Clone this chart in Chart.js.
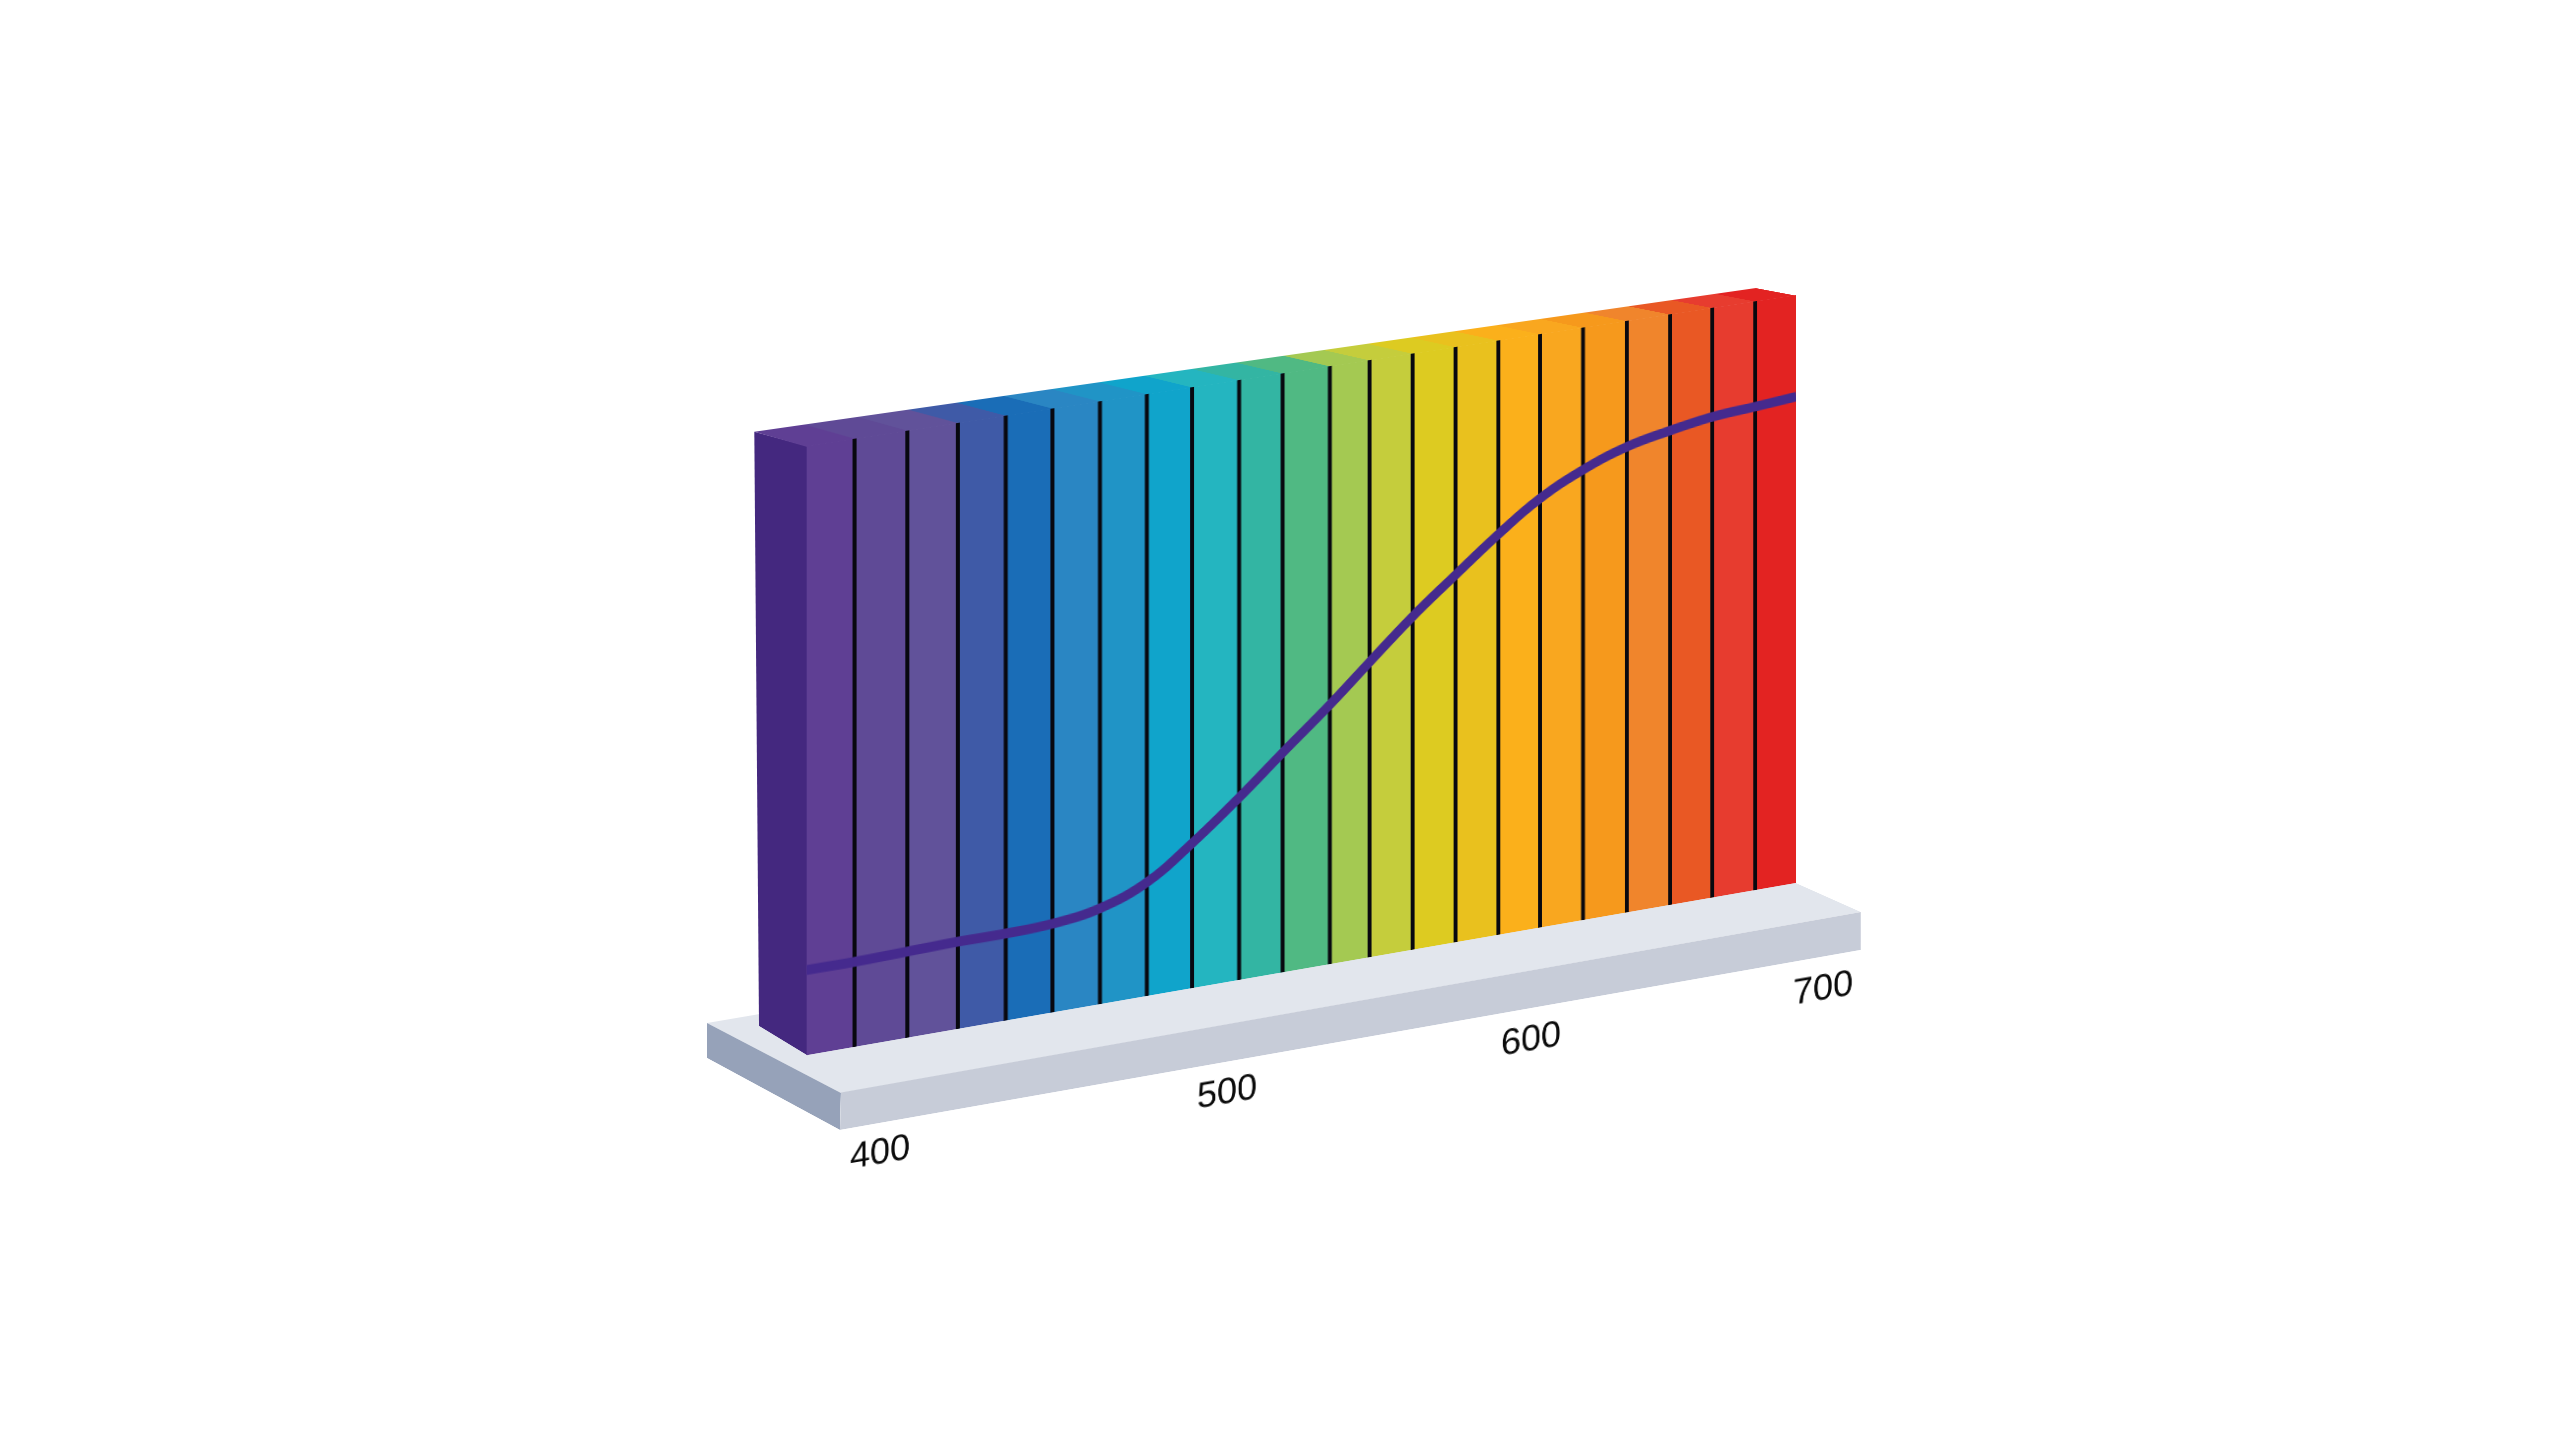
<!DOCTYPE html>
<html lang="en">
<head>
    <meta charset="UTF-8">
    <title>Spectrum Wall 400-700</title>
    <script src="https://cdn.jsdelivr.net/npm/chart.js"></script>
    <style>
        * { margin: 0; padding: 0; box-sizing: border-box; }
        html, body { width: 2560px; height: 1441px; background: #fff; overflow: hidden; }
        .face { position: absolute; left: 0; top: 0; transform-origin: 0 0; }
    </style>
</head>
<body>
    <script>
        // colour band edges along the wavelength axis
        const bandEdges = [400, 414.1, 429.6, 444.5, 458.7, 472.6, 486.7, 500.8, 514.3, 528.5, 541.7, 556,
            568, 581.2, 594.3, 607.5, 620.3, 633.6, 647.1, 660.6, 673.8, 687.2, 700];
        const bandColors = ['#5f3f94', '#5f4a96', '#61529a', '#3f5aa7', '#1a6db7', '#2a86c3', '#2094c6', '#10a4cb',
            '#24b5c0', '#33b5a3', '#50b983', '#a4c952', '#c5cd3c', '#ddcb21', '#e9c11e', '#fbb01b',
            '#f9a71f', '#f6991c', '#f0852c', '#e95824', '#e73c2f', '#e32322'];
        // curve height in % of the wall, one value per band edge
        const curveHeights = [14, 14, 14.2, 14.4, 14.4, 14.7, 15.9, 18.9, 24.1, 30.4, 36.7, 43.4,
            49.4, 55.9, 61.7, 67.4, 72.3, 76, 78.7, 80.3, 81.5, 82.1, 82.7];
        const tickSlots = [400, 510.4, 607.1, 700];
        const tickLabels = ['400', '500', '600', '700'];

        // corners on the page: top left, top right, bottom right, bottom left
        const quads = {
            plinthTop: [[707, 1023], [1722, 850], [1861, 912], [841, 1093]],
            plinthLeft: [[707, 1023], [841, 1093], [840, 1130], [707, 1058]],
            plinthFront: [[841, 1092.5], [1861, 912], [1861, 950], [840, 1130]],
            wallSide: [[754.3, 431.7], [807.5, 446], [807.5, 1055.5], [759, 1026]],
            wallTop: [[754.3, 431.7], [1756, 288], [1796, 295.5], [806.7, 446.8]],
            wallFront: [[806.7, 446], [1796, 295], [1796, 883], [806.7, 1055.3]],
            labels: [[830, 1063.7], [1873, 882.3], [1873, 1002.3], [830, 1183.7]]
        };

        function perspective(q) {
            const [[x0, y0], [x1, y1], [x2, y2], [x3, y3]] = q;
            const dx1 = x1 - x2, dx2 = x3 - x2, sx = x0 - x1 + x2 - x3;
            const dy1 = y1 - y2, dy2 = y3 - y2, sy = y0 - y1 + y2 - y3;
            const den = dx1 * dy2 - dx2 * dy1;
            return { g: (sx * dy2 - dx2 * sy) / den, k: (dx1 * sy - sx * dy1) / den };
        }

        // canvas -> quad as a CSS matrix3d
        function quadMatrix(q, w, h) {
            const [[x0, y0], [x1, y1], , [x3, y3]] = q;
            const { g, k } = perspective(q);
            const a = x1 - x0 + g * x1, b = x3 - x0 + k * x3;
            const d = y1 - y0 + g * y1, e = y3 - y0 + k * y3;
            return `matrix3d(${a / w},${d / w},0,${g / w},${b / h},${e / h},0,${k / h},0,0,1,0,${x0},${y0},0,1)`;
        }

        // how far the far end of the lower edge is squeezed
        function squeeze(q) {
            const { g, k } = perspective(q);
            return (1 + g + k) / (1 + k);
        }

        // the thin top face has a stronger squeeze than the wall, so move its
        // band edges to meet the wall's edges along the shared corner
        function topFaceEdges() {
            const rw = squeeze(quads.wallFront), rt = squeeze(quads.wallTop);
            return bandEdges.map(v => {
                const u = (v - 400) / 300;
                const t = u * rw / (1 - u + u * rw);
                return 400 + 300 * t / (rt - t * (rt - 1));
            });
        }

        function addFace(q, w, h) {
            const box = document.createElement('div');
            box.className = 'face';
            box.style.width = w + 'px';
            box.style.height = h + 'px';
            box.style.transform = quadMatrix(q, w, h);
            const canvas = document.createElement('canvas');
            canvas.width = w;
            canvas.height = h;
            box.appendChild(canvas);
            document.body.appendChild(box);
            return canvas;
        }

        function faceSize(q) {
            const len = (p, r) => Math.hypot(p[0] - r[0], p[1] - r[1]);
            return [Math.ceil(Math.max(len(q[0], q[1]), len(q[3], q[2]))), Math.ceil(Math.max(len(q[0], q[3]), len(q[1], q[2])))];
        }

        const baseOptions = { responsive: false, animation: false, devicePixelRatio: 2, plugins: { legend: { display: false }, tooltip: { enabled: false } } };

        // one full height floating bar per colour band
        function bandChart(q, edges, colors) {
            const [w, h] = faceSize(q);
            new Chart(addFace(q, w, h), {
                type: 'bar',
                data: {
                    labels: ['band'],
                    datasets: colors.map((c, i) => ({
                        data: [[edges[i], edges[i + 1]]],
                        backgroundColor: c,
                        grouped: false,
                        barPercentage: 1,
                        categoryPercentage: 1,
                        inflateAmount: 1
                    }))
                },
                options: {
                    ...baseOptions,
                    indexAxis: 'y',
                    scales: {
                        x: { type: 'linear', min: 400, max: 700, display: false },
                        y: { display: false }
                    }
                }
            });
        }

        bandChart(quads.plinthTop, [400, 700], ['#e2e6ed']);
        bandChart(quads.plinthLeft, [400, 700], ['#96a2b9']);
        bandChart(quads.plinthFront, [400, 700], ['#c7ccd8']);
        bandChart(quads.wallSide, [400, 700], ['#44287f']);
        bandChart(quads.wallTop, topFaceEdges(), bandColors);
        bandChart(quads.wallFront, bandEdges, bandColors);

        // black lines and the curve sit on a second canvas so the curve stays over the lines
        const [frontW, frontH] = faceSize(quads.wallFront);
        new Chart(addFace(quads.wallFront, frontW, frontH), {
            type: 'line',
            data: {
                datasets: [{
                    data: bandEdges.map((x, i) => ({ x: x, y: curveHeights[i] })),
                    borderColor: '#452a8e',
                    borderWidth: 10,
                    pointRadius: 0,
                    tension: 0.4
                }]
            },
            options: {
                ...baseOptions,
                scales: {
                    x: {
                        type: 'linear',
                        min: 400,
                        max: 700,
                        afterBuildTicks: scale => { scale.ticks = bandEdges.map(v => ({ value: v })); },
                        ticks: { display: false, autoSkip: false },
                        border: { display: false },
                        grid: {
                            drawTicks: false,
                            lineWidth: 4,
                            color: ctx => (ctx.tick && (ctx.tick.value === 400 || ctx.tick.value === 700)) ? 'transparent' : '#08080f'
                        }
                    },
                    y: { min: 0, max: 100, display: false }
                }
            }
        });

        // wavelength labels under the plinth
        new Chart(addFace(quads.labels, 1043, 120), {
            type: 'line',
            data: { datasets: [{ data: [] }] },
            options: {
                ...baseOptions,
                scales: {
                    x: {
                        type: 'linear',
                        min: 384.1,
                        max: 715.9,
                        afterBuildTicks: scale => { scale.ticks = tickSlots.map(v => ({ value: v })); },
                        ticks: {
                            autoSkip: false,
                            maxRotation: 0,
                            padding: 0,
                            color: '#0a0a0a',
                            font: { family: '"Liberation Sans"', size: 36 },
                            callback: (value, i) => tickLabels[i]
                        },
                        border: { display: false },
                        grid: { display: false, drawTicks: false }
                    },
                    y: { display: false }
                }
            }
        });
    </script>
</body>
</html>
